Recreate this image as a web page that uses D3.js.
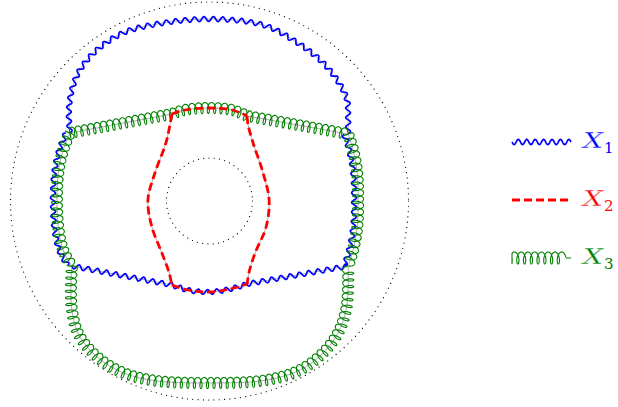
<!DOCTYPE html>
<html>
<head>
<meta charset="utf-8">
<script src="https://cdn.jsdelivr.net/npm/d3@7"></script>
<style>
body { margin: 0; background: #fff; }
</style>
</head>
<body>
<script>
// shape points, 1 unit = 20px, origin at the centre of the dotted circles, y up
var circleRadii = [9.95, 2.15]

var topArc = [[-6.98, 3.4], [-7.03, 4.55], [-6.88, 5.55], [-6.48, 6.55], [-5.63, 7.55], [-4.33, 8.4],
	[-2.63, 8.85], [0.03, 9.1], [2.68, 8.8], [4.18, 8.05], [5.53, 7.05], [6.38, 6.05], [6.88, 5.05],
	[6.93, 4.3], [6.93, 3.35]]
var bottomArc = [[-6.88, -3.25], [-6.93, -4.45], [-6.88, -5.45], [-6.58, -6.6], [-5.83, -7.6], [-4.63, -8.45],
	[-2.98, -8.95], [0.03, -9.1], [2.88, -8.95], [4.53, -8.45], [5.68, -7.6], [6.43, -6.6], [6.83, -5.45],
	[6.93, -4.35], [6.93, -3.25]]
var leftSide = [[-6.98, 3.4], [-7.28, 2.65], [-7.53, 1.65], [-7.63, 0.05], [-7.53, -1.55], [-7.28, -2.55], [-6.88, -3.25]]
var rightSide = [[6.93, 3.35], [7.18, 2.55], [7.38, 1.45], [7.43, 0.05], [7.38, -1.35], [7.18, -2.45], [6.93, -3.25]]

var innerTop = [[-1.88, 4.35], [-1.23, 4.55], [-0.03, 4.65], [1.13, 4.55], [1.88, 4.25]]
var innerBottom = [[-1.88, -4.2], [-1.08, -4.45], [-0.03, -4.55], [1.03, -4.4], [1.88, -4.15]]
var innerLeft = [[-1.88, 4.35], [-1.98, 3.8], [-2.18, 2.9], [-2.73, 1.4], [-3.08, 0.05], [-2.88, -1.3],
	[-2.38, -2.6], [-2.03, -3.55], [-1.88, -4.2]]
var innerRight = [[1.88, 4.25], [1.93, 3.8], [2.18, 2.9], [2.68, 1.4], [2.98, 0.05], [2.83, -1.3],
	[2.28, -2.6], [1.98, -3.55], [1.88, -4.15]]

var topLine = [[[-6.98, 3.4], [-1.88, 4.35]], innerTop, [[1.88, 4.25], [6.93, 3.35]]]
var bottomLine = [[[-6.88, -3.25], [-1.88, -4.2]], innerBottom, [[1.88, -4.15], [6.93, -3.25]]]

var legendNames = ["1", "2", "3"]
var legendColors = ["#0000ff", "#ff0000", "#008000"]

var width = 618, height = 407
var cx = 209.5, cy = 201, unit = 20
var serif = "'DejaVu Serif', serif"

var x = d3.scaleLinear().domain([-10, 10]).range([cx - 10 * unit, cx + 10 * unit])
var y = d3.scaleLinear().domain([-10, 10]).range([cy + 10 * unit, cy - 10 * unit])

var svg = d3.select("body").append("svg")
	.attr("width", width)
	.attr("height", height)

var curve = d3.line()
	.x(function(d){ return x(d[0]); })
	.y(function(d){ return y(d[1]); })
	.curve(d3.curveCatmullRom)

var plain = d3.line()
	.x(function(d){ return d[0]; })
	.y(function(d){ return d[1]; })

function chainPath(chain){
	return chain.map(function(seg){ return curve(seg); }).join("")
}

// helper that walks along a path and gives points + normals
function walker(d){
	var p = svg.append("path").attr("d", d).attr("fill", "none")
	var node = p.node()
	var L = node.getTotalLength()
	var w = {
		L: L,
		at: function(s){
			s = Math.max(0, Math.min(L, s))
			var a = node.getPointAtLength(Math.max(0, s - 0.5))
			var b = node.getPointAtLength(Math.min(L, s + 0.5))
			var c = node.getPointAtLength(s)
			var dx = b.x - a.x, dy = b.y - a.y
			var n = Math.sqrt(dx * dx + dy * dy) || 1
			return {x: c.x, y: c.y, nx: -dy / n, ny: dx / n}
		},
		remove: function(){ p.remove(); }
	}
	return w
}

function snake(d, amp, len, shift){
	var w = walker(d)
	var n = Math.max(1, Math.round(w.L / len))
	var l = w.L / n
	var pts = []
	for (var s = 0; s <= w.L + 0.01; s += 0.5) {
		var p = w.at(s)
		var off = amp * Math.sin(2 * Math.PI * s / l)
		pts.push([p.x + p.nx * off + shift, p.y + p.ny * off])
	}
	w.remove()
	return plain(pts)
}

function coil(d, amp, len, back){
	var w = walker(d)
	var n = Math.max(1, Math.round(w.L / len))
	var l = w.L / n
	var pts = []
	for (var t = 0; t <= 2 * Math.PI * n + 0.001; t += 0.1) {
		var s = l * t / (2 * Math.PI) + back * (Math.cos(t) - 1)
		var p = w.at(s)
		var off = amp * Math.sin(t)
		pts.push([p.x + p.nx * off, p.y + p.ny * off])
	}
	w.remove()
	return plain(pts)
}

// dotted circles
svg.selectAll("circle.dots").data(circleRadii).enter().append("circle")
	.attr("class", "dots")
	.attr("cx", x(0))
	.attr("cy", y(0))
	.attr("r", function(d){ return x(d) - x(0); })
	.attr("fill", "none")
	.attr("stroke", "#000")
	.attr("stroke-width", 1.2)
	.attr("stroke-linecap", "round")
	.attr("stroke-dasharray", "0.01 5.3")

// thin gray guide paths
var allPaths = [[topArc], [bottomArc], [leftSide], [rightSide], topLine, bottomLine,
	[innerLeft], [innerRight]]
allPaths.forEach(function(c){
	svg.append("path")
		.attr("d", chainPath(c))
		.attr("fill", "none")
		.attr("stroke", "#999")
		.attr("stroke-width", 0.8)
})

// X1 : blue snake
var blue = [[[topArc], 0], [[leftSide], -4], [[rightSide], -4], [bottomLine, 0]]
blue.forEach(function(b){
	svg.append("path")
		.attr("d", snake(chainPath(b[0]), 2.4, 9.5, b[1]))
		.attr("fill", "none")
		.attr("stroke", legendColors[0])
		.attr("stroke-width", 1.7)
})

// X3 : green coil
var green = [topLine, [leftSide], [rightSide], [bottomArc]]
green.forEach(function(c){
	svg.append("path")
		.attr("d", coil(chainPath(c), 5.5, 6.5, 2.5))
		.attr("fill", "none")
		.attr("stroke", legendColors[2])
		.attr("stroke-width", 1.1)
})

// X2 : red dashed
var red = [innerTop, innerRight, innerBottom, innerLeft]
red.forEach(function(c){
	svg.append("path")
		.attr("d", curve(c))
		.attr("fill", "none")
		.attr("stroke", legendColors[1])
		.attr("stroke-width", 2.8)
		.attr("stroke-dasharray", "8 4")
})

// legend
var lx0 = 512, lx1 = 571, ly = [142, 200, 258]
var lg = svg.append("g")
lg.append("path")
	.attr("d", snake(plain([[lx0, ly[0]], [lx1, ly[0]]]), 2.6, 9, 0))
	.attr("fill", "none").attr("stroke", legendColors[0]).attr("stroke-width", 1.7)
lg.append("path")
	.attr("d", plain([[lx0, ly[1]], [lx1, ly[1]]]))
	.attr("fill", "none").attr("stroke", legendColors[1]).attr("stroke-width", 2.8)
	.attr("stroke-dasharray", "8 4")
lg.append("path")
	.attr("d", coil(plain([[lx0, ly[2]], [lx1 - 5, ly[2]]]), 6, 6.5, 2.6) + plain([[lx1 - 5, ly[2]], [lx1, ly[2]]]))
	.attr("fill", "none").attr("stroke", legendColors[2]).attr("stroke-width", 1.1)

// thin white outline takes a bit of weight off the DejaVu glyphs
legendNames.forEach(function(name, i){
	lg.append("text")
		.attr("x", 583)
		.attr("y", ly[i] + 6)
		.attr("fill", legendColors[i])
		.attr("stroke", "#fff")
		.attr("stroke-width", 0.3)
		.attr("textLength", 20)
		.attr("lengthAdjust", "spacingAndGlyphs")
		.attr("font-family", serif)
		.attr("font-style", "italic")
		.attr("font-size", 22)
		.text("X")
	lg.append("text")
		.attr("x", 604)
		.attr("y", ly[i] + 11)
		.attr("fill", legendColors[i])
		.attr("font-family", serif)
		.attr("font-size", 15)
		.text(name)
})
</script>
</body>
</html>
